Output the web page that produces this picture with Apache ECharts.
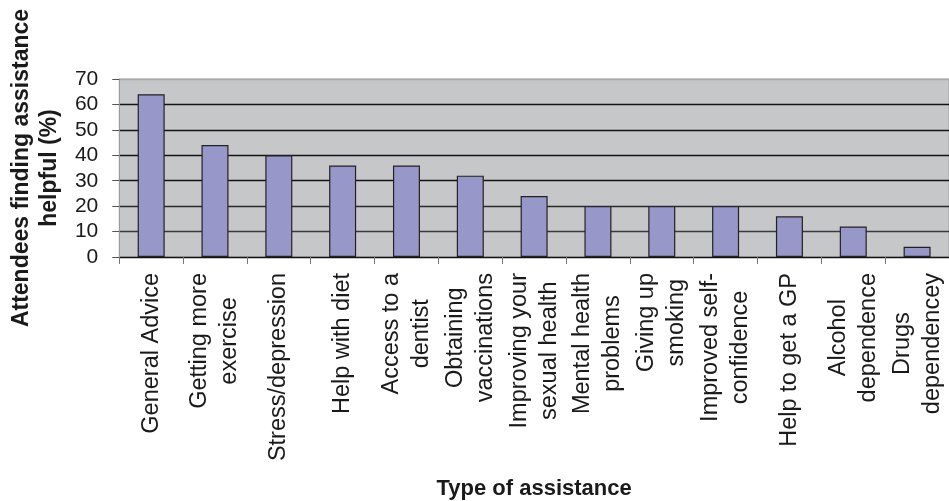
<!DOCTYPE html>
<html>
<head>
<meta charset="utf-8">
<script src="https://cdn.jsdelivr.net/npm/echarts@6/dist/echarts.min.js"></script>
<style>
  html, body { margin: 0; padding: 0; background: #ffffff; }
  #chart { width: 949px; height: 501px; }
</style>
</head>
<body>
<div id="chart"></div>
<script>
// Assistance types (line breaks as shown under each bar)
const categories = [
  'General Advice',
  'Getting more\nexercise',
  'Stress/depression',
  'Help with diet',
  'Access to a\ndentist',
  'Obtaining\nvaccinations',
  'Improving your\nsexual health',
  'Mental health\nproblems',
  'Giving up\nsmoking',
  'Improved self-\nconfidence',
  'Help to get a GP',
  'Alcohol\ndependence',
  'Drugs\ndependencey'
];

// Share of attendees who found each type of assistance helpful (%)
const helpfulPct = [64, 44, 40, 36, 36, 32, 24, 20, 20, 20, 16, 12, 4];

// Value axis ticks
const yTicks = [0, 10, 20, 30, 40, 50, 60, 70];

const yAxisTitle = 'Attendees finding assistance\nhelpful (%)';
const xAxisTitle = 'Type of assistance';

const FONT = '"Liberation Sans", Arial, sans-serif';
const chart = echarts.init(document.getElementById('chart'), null, { renderer: 'canvas' });

chart.setOption({
  animation: false,
  backgroundColor: '#ffffff',
  grid: {
    left: 115,
    right: -5,
    top: 79,
    bottom: 244,
    show: true,
    backgroundColor: '#c6c7c9',
    borderColor: '#a9a9a9',
    borderWidth: 1
  },
  xAxis: {
    type: 'category',
    data: categories,
    boundaryGap: true,
    name: xAxisTitle,
    nameLocation: 'middle',
    nameGap: 221,
    nameTextStyle: { fontFamily: FONT, fontSize: 22, fontWeight: 'bold', color: '#1a1a1a' },
    axisLine: { show: true, lineStyle: { color: '#111111', width: 1.2 } },
    axisTick: { show: true, length: 7, alignWithLabel: false, lineStyle: { color: '#777777', width: 1 } },
    axisLabel: {
      interval: 0,
      rotate: 90,
      margin: 16,
      color: '#1a1a1a',
      fontFamily: FONT,
      fontSize: 23.5,
      formatter: function (v) {
        return v.split('\n').map(function (s) { return '{c|' + s + '}'; }).join('\n');
      },
      rich: {
        c: { align: 'center', fontFamily: FONT, fontSize: 23.5, lineHeight: 30, color: '#1a1a1a' }
      }
    },
    splitLine: { show: false }
  },
  yAxis: {
    type: 'value',
    min: yTicks[0],
    max: yTicks[yTicks.length - 1],
    interval: yTicks[1] - yTicks[0],
    name: yAxisTitle,
    nameLocation: 'middle',
    nameRotate: 90,
    nameGap: 51,
    nameTextStyle: { fontFamily: FONT, fontSize: 23, fontWeight: 'bold', color: '#1a1a1a', lineHeight: 28, align: 'center' },
    axisLine: { show: true, lineStyle: { color: '#9a9a9a', width: 1 } },
    axisTick: { show: true, length: 7, lineStyle: { color: '#555555', width: 1 } },
    axisLabel: { margin: 21, color: '#1a1a1a', fontFamily: FONT, fontSize: 21 },
    splitLine: {
      show: true,
      lineStyle: {
        color: ['#111111', '#3a3a3a', '#2a2a2a', '#151515', '#151515', '#151515', '#151515', '#a9a9a9'],
        width: 1.4
      }
    }
  },
  series: [{
    type: 'bar',
    data: helpfulPct,
    barWidth: 27,
    itemStyle: { color: '#9797ca', borderColor: '#222222', borderWidth: 1.2 }
  }]
});
</script>
</body>
</html>
